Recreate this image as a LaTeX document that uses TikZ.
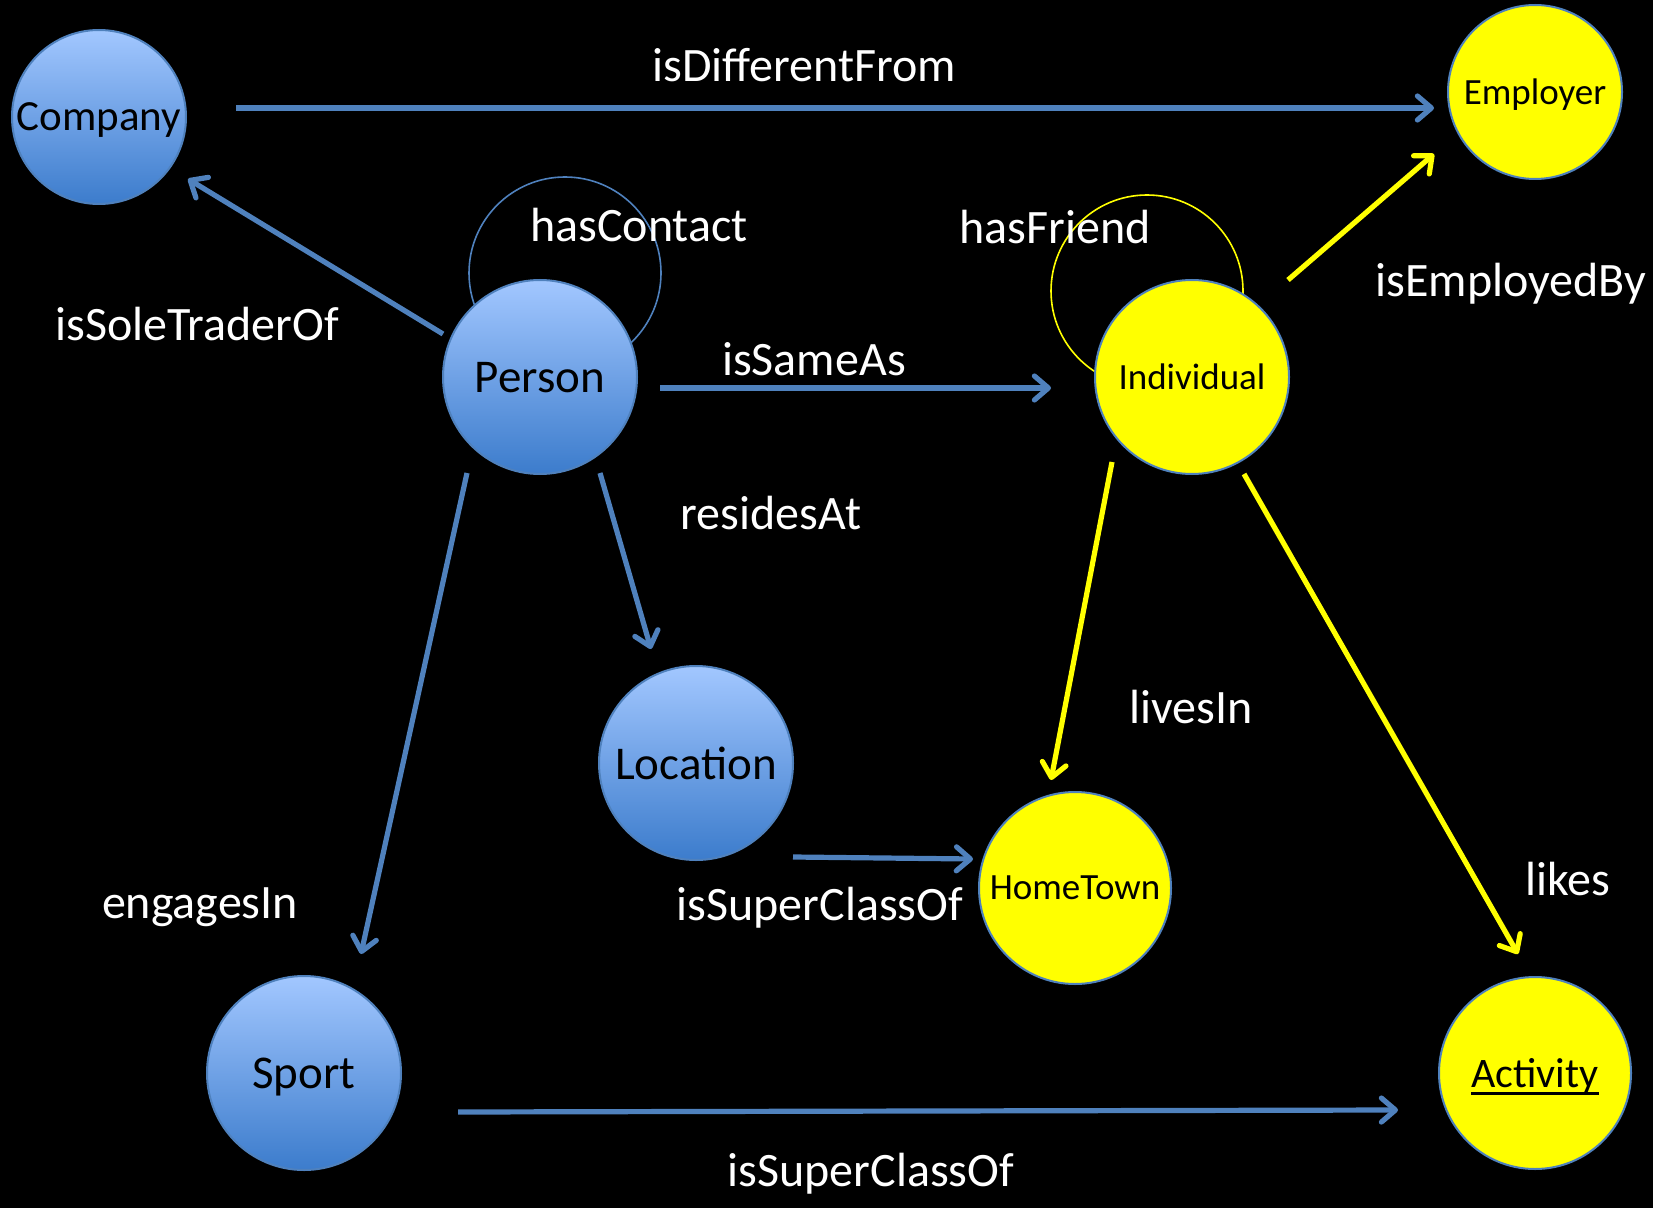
\documentclass[tikz,border=0pt]{standalone}
\usepackage{fontspec}
\setmainfont{Carlito}
\usetikzlibrary{arrows.meta,calc,backgrounds}

\definecolor{edgeblue}{RGB}{79,129,189}
\definecolor{topblue}{RGB}{162,199,255}
\definecolor{lowblue}{RGB}{60,124,204}
\definecolor{hiyellow}{RGB}{255,255,0}

\newcommand{\thickul}[1]{\setbox0\hbox{#1}\rlap{\rule[-3.6pt]{\wd0}{1.3pt}}\box0}

\tikzset{
  concept/.style={circle, draw=edgeblue, line width=1pt, top color=topblue,
    bottom color=lowblue, text=black, inner sep=0pt, text depth=0pt},
  instance/.style={circle, draw=edgeblue, line width=1pt, fill=hiyellow,
    text=black, inner sep=0pt, text depth=0pt},
  rel/.style={white, font=\fontsize{24}{28}\selectfont},
  tipbarb/.tip={Straight Barb[length=7pt,width=12pt,round]},
  bluearrow/.style={edgeblue, line width=2.6pt, -tipbarb},
  yellowarrow/.style={hiyellow, line width=2.6pt, -tipbarb},
}

\begin{document}
\begin{tikzpicture}[x=0.5pt, y=-0.5pt]
    \useasboundingbox (0,0) rectangle (1653,1208);

    %% classes (blue)
    \node[concept, minimum size=87pt, font=\fontsize{21.5}{24}\selectfont] (company) at (99,117) {Company};
    \node[concept, minimum size=97pt, font=\fontsize{23.5}{26}\selectfont] (person) at (540,377) {Person};
    \node[concept, minimum size=97pt, font=\fontsize{23.5}{26}\selectfont] (location) at (696,763) {Location};
    \node[concept, minimum size=97pt, font=\fontsize{23.5}{26}\selectfont] (sport) at (304,1073) {Sport};

    %% classes (yellow)
    \node[instance, minimum size=87pt, font=\fontsize{18.5}{22}\selectfont] (employer) at (1535,92) {Employer};
    \node[instance, minimum size=97pt, font=\fontsize{18.5}{22}\selectfont] (individual) at (1192,377) {Individual};
    \node[instance, minimum size=96pt, font=\fontsize{18.5}{22}\selectfont] (hometown) at (1075,888) {HomeTown};
    \node[instance, minimum size=96pt, font=\fontsize{21}{24}\selectfont] (activity) at (1535,1073) {\thickul{Activity}};

    %% background and self loops
    \begin{pgfonlayer}{background}
      \fill[black] (0,0) rectangle (1653,1208);
      \draw[edgeblue, line width=0.8pt] ($(person)+(25,-104)$) circle[radius=96];
      \draw[hiyellow, line width=0.8pt] ($(individual)+(-45,-86)$) circle[radius=96];
    \end{pgfonlayer}

    %% relations
    \draw[bluearrow] ($(company)+(137,-9)$) -- ($(employer)+(-101,16)$);
    \draw[bluearrow] ($(person)+(-97,-43)$) -- ($(company)+(89,62)$);
    \draw[bluearrow] ($(person)+(120,11)$) -- ($(individual)+(-141,11)$);
    \draw[bluearrow] ($(person)+(60,96)$) -- ($(location)+(-45,-114)$);
    \draw[bluearrow] ($(person)+(-73,96)$) -- ($(sport)+(57,-119)$);
    \draw[bluearrow] ($(location)+(97,94)$) -- ($(hometown)+(-102,-29)$);
    \draw[bluearrow] ($(sport)+(154,39)$) -- ($(activity)+(-137,37)$);
    \draw[yellowarrow] ($(individual)+(96,-97)$) -- ($(employer)+(-101,62)$);
    \draw[yellowarrow] ($(individual)+(-80,85)$) -- ($(hometown)+(-24,-108)$);
    \draw[yellowarrow] ($(individual)+(52,97)$) -- ($(activity)+(-17,-119)$);

    %% labels
    \node[rel] (lblDiff) at (804,65) {isDifferentFrom};
    \node[rel] (lblContact) at (639,225) {hasContact};
    \node[rel] (lblFriend) at (1055,227) {hasFriend};
    \node[rel] (lblTrader) at (197,324) {isSoleTraderOf};
    \node[rel] (lblSame) at (814,359) {isSameAs};
    \node[rel] (lblEmployed) at (1511,284) {isEmployedBy};
    \node[rel] (lblResides) at (771,513) {residesAt};
    \node[rel] (lblLives) at (1191,707) {livesIn};
    \node[rel] (lblLikes) at (1568,879) {likes};
    \node[rel] (lblEngages) at (200,907) {engagesIn};
    \node[rel] (lblSuperA) at (820,908) {isSuperClassOf};
    \node[rel] (lblSuperB) at (871,1174) {isSuperClassOf};

  \end{tikzpicture}
\end{document}
